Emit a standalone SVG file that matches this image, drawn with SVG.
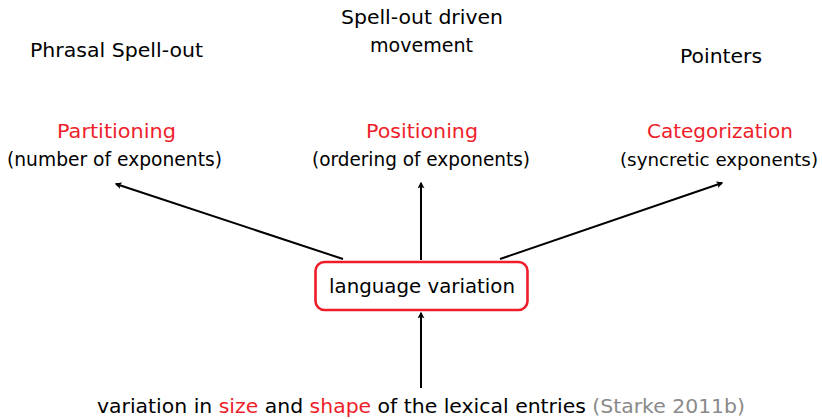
<svg xmlns="http://www.w3.org/2000/svg" width="822" height="419" viewBox="0 0 822 419">
  <style>
    text { font-family: "DejaVu Sans", "Liberation Sans", sans-serif; font-size: 20px; fill: #000; text-anchor: middle; }
    .red { fill: #ee1d2a; }
    .gray { fill: #8a8a8a; }
    .narrow { font-size: 18px; }
    .conn { stroke: #000; stroke-width: 2; fill: none; marker-end: url(#arrow); }
    .box { fill: #fff; stroke: #ee1d2a; stroke-width: 2.6; }
  </style>
  <defs>
    <marker id="arrow" viewBox="0 0 10 10" refX="8" refY="5" markerWidth="7" markerHeight="7" markerUnits="userSpaceOnUse" orient="auto">
      <path d="M0,0 Q4,5 0,10 L10,5 Z" fill="#000"/>
    </marker>
  </defs>

  <!-- theory headings -->
  <g id="theory-phrasal">
    <text x="116.5" y="57" textLength="173" lengthAdjust="spacingAndGlyphs">Phrasal Spell-out</text>
  </g>
  <g id="theory-movement">
    <text x="422" y="24" textLength="162" lengthAdjust="spacingAndGlyphs">Spell-out driven</text>
    <text x="421.5" y="52" textLength="103" lengthAdjust="spacingAndGlyphs">movement</text>
  </g>
  <g id="theory-pointers">
    <text x="721" y="63" textLength="82" lengthAdjust="spacingAndGlyphs">Pointers</text>
  </g>

  <!-- dimensions of variation -->
  <g id="partitioning">
    <text class="red" x="116.5" y="138" textLength="119" lengthAdjust="spacingAndGlyphs">Partitioning</text>
    <text x="114.5" y="166" textLength="215" lengthAdjust="spacingAndGlyphs">(number of exponents)</text>
  </g>
  <g id="positioning">
    <text class="red" x="422" y="138" textLength="112" lengthAdjust="spacingAndGlyphs">Positioning</text>
    <text x="421" y="166" textLength="218" lengthAdjust="spacingAndGlyphs">(ordering of exponents)</text>
  </g>
  <g id="categorization">
    <text class="red" x="720" y="138" textLength="146" lengthAdjust="spacingAndGlyphs">Categorization</text>
    <text class="narrow" x="719" y="166" textLength="198" lengthAdjust="spacingAndGlyphs">(syncretic exponents)</text>
  </g>

  <!-- connectors -->
  <g id="connectors">
    <line class="conn" x1="343" y1="259" x2="116" y2="184"/>
    <line class="conn" x1="421" y1="260" x2="421" y2="183"/>
    <line class="conn" x1="500" y1="259" x2="722" y2="183"/>
    <line class="conn" x1="421" y1="388" x2="421" y2="313"/>
  </g>

  <!-- central node -->
  <g id="language-variation">
    <rect class="box" x="315.5" y="262" width="212" height="48" rx="9"/>
    <text x="422" y="293" textLength="186" lengthAdjust="spacingAndGlyphs">language variation</text>
  </g>

  <!-- source statement -->
  <g id="source">
    <text x="421" y="413" textLength="648" lengthAdjust="spacingAndGlyphs">variation in <tspan class="red">size</tspan> and <tspan class="red">shape</tspan> of the lexical entries <tspan class="gray">(Starke 2011b)</tspan></text>
  </g>
</svg>
